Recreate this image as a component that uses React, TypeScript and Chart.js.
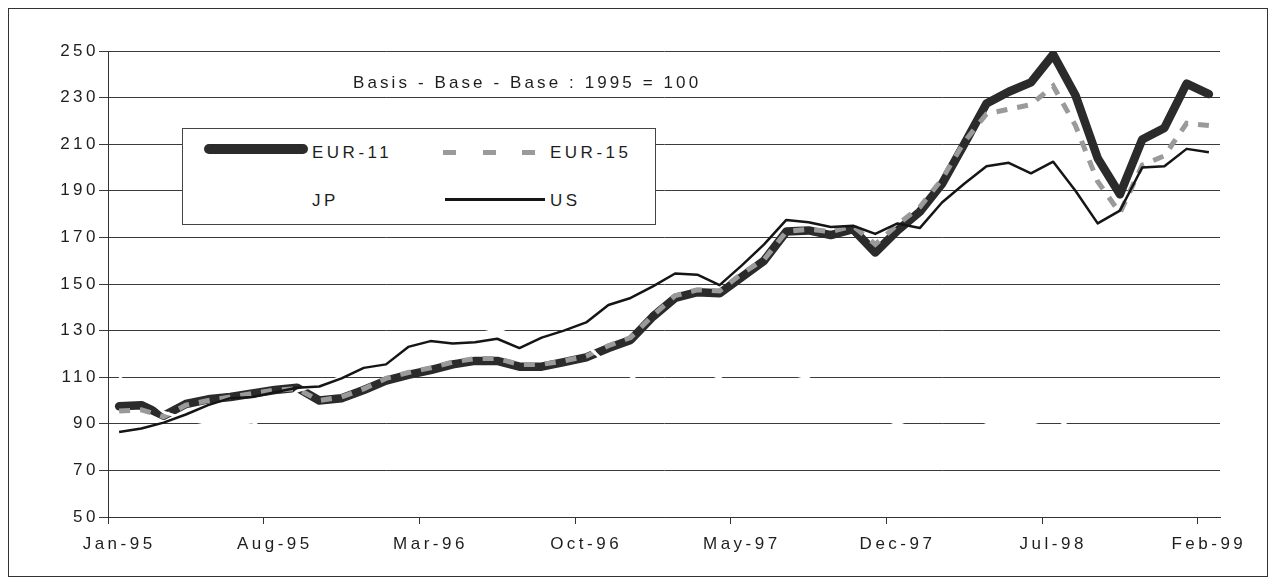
import React, { useEffect, useRef } from "react";
import { Chart, registerables } from "chart.js";

Chart.register(...registerables);

const monthLabels = [
  "Jan-95", "Feb-95", "Mar-95", "Apr-95", "May-95", "Jun-95", "Jul-95", "Aug-95", "Sep-95", "Oct-95", "Nov-95", "Dec-95",
  "Jan-96", "Feb-96", "Mar-96", "Apr-96", "May-96", "Jun-96", "Jul-96", "Aug-96", "Sep-96", "Oct-96", "Nov-96", "Dec-96",
  "Jan-97", "Feb-97", "Mar-97", "Apr-97", "May-97", "Jun-97", "Jul-97", "Aug-97", "Sep-97", "Oct-97", "Nov-97", "Dec-97",
  "Jan-98", "Feb-98", "Mar-98", "Apr-98", "May-98", "Jun-98", "Jul-98", "Aug-98", "Sep-98", "Oct-98", "Nov-98", "Dec-98",
  "Jan-99", "Feb-99",
];

const eur11 = [
  97.5, 98, 93.5, 98.5, 100.5, 101.5, 103, 104.5, 105.5, 100, 101, 104.5,
  108.5, 111, 113, 115.5, 117, 117, 114.5, 114.5, 116.5, 118.5, 122.5, 126,
  136, 144, 146.5, 146, 153, 160, 172.5, 173, 171, 173.5, 163.5, 173,
  181, 193, 210, 227.5, 232.5, 236.5, 248.5, 231, 204, 188.5, 212, 217,
  236, 231.5,
];

const eur15 = [
  95.5, 96, 93, 98, 100, 101.5, 103, 104.5, 105, 100, 101.5, 105,
  109.5, 112, 114, 116.5, 118, 118, 115.5, 115.5, 117, 119, 123.5, 127,
  136.5, 145, 147.5, 147, 154.5, 160.5, 172.5, 173.5, 172.5, 175, 167, 175.5,
  183, 195, 211, 223, 225, 227, 235, 218, 194, 180.5, 201, 205,
  219, 218,
];

const jp = [
  110, 103, 95, 92, 90, 90.5, 89.5, 96, 104, 107, 110, 115,
  118, 120, 122, 125, 128, 130.5, 127, 125, 124, 124, 115, 110.5,
  104, 103, 106, 110, 116, 118, 112, 109.5, 104, 97, 93, 90,
  93, 96, 94, 90.5, 90, 90, 93, 87, 82, 80, 83, 82,
  81, 83,
];

const us = [
  86.5, 88, 90.5, 94, 98, 101, 101.5, 103.5, 105.5, 106, 109.5, 114,
  115.5, 123, 125.5, 124.5, 125, 126.5, 122.5, 127, 130, 133.5, 141, 144,
  149, 154.5, 154, 149.5, 158, 167, 177.5, 176.5, 174.5, 175, 171.5, 176,
  174, 185, 193, 200.5, 202, 197.5, 202.5, 190, 176, 181.5, 200, 200.5,
  208, 206.5,
];

const yMin = 50;
const yMax = 250;
const yStep = 20;
const labelEvery = 7;

const titleText = "Basis - Base - Base : 1995 = 100";

const FONT = '"Liberation Sans", Arial, Helvetica, sans-serif';
const TEXT = "#1e1e1e";

const spacingPlugin = {
  id: "letterSpacing",
  beforeDraw(chart: any) {
    chart.ctx.letterSpacing = "3.5px";
  },
};

export default function App() {
  const canvasRef = useRef<HTMLCanvasElement | null>(null);

  useEffect(() => {
    const canvas = canvasRef.current;
    if (!canvas) return;
    const chart = new Chart(canvas, {
      type: "line",
      data: {
        labels: monthLabels,
        datasets: [
          {
            label: "EUR-11",
            data: eur11,
            borderColor: "#2b2b2b",
            borderWidth: 8.5,
            borderJoinStyle: "round",
            borderCapStyle: "round",
            pointRadius: 0,
            tension: 0,
            order: 4,
          },
          {
            label: "EUR-15",
            data: eur15,
            borderColor: "#9a9a9a",
            borderWidth: 5,
            borderDash: [11, 10],
            pointRadius: 0,
            tension: 0,
            order: 3,
          },
          {
            label: "JP",
            data: jp,
            borderColor: "#ffffff",
            borderWidth: 3,
            pointRadius: 0,
            tension: 0,
            order: 2,
          },
          {
            label: "US",
            data: us,
            borderColor: "#151515",
            borderWidth: 2.5,
            borderJoinStyle: "round",
            pointRadius: 0,
            tension: 0,
            order: 1,
          },
        ],
      },
      options: {
        responsive: false,
        animation: false,
        events: [],
        layout: { padding: { top: 42, right: 47, left: 0, bottom: 0 } },
        plugins: {
          legend: { display: false },
          tooltip: { enabled: false },
          title: { display: false },
        },
        scales: {
          x: {
            type: "category",
            offset: true,
            afterFit: (s: any) => {
              s.height = 59;
            },
            border: { display: true, color: "#333", width: 1 },
            grid: {
              offset: true,
              drawOnChartArea: false,
              drawTicks: true,
              tickLength: 7,
              lineWidth: 1,
              color: (ctx: any) => (ctx.index % labelEvery === 0 ? "#333" : "rgba(0,0,0,0)"),
            },
            ticks: {
              autoSkip: false,
              maxRotation: 0,
              minRotation: 0,
              padding: 10,
              color: TEXT,
              font: { family: FONT, size: 17 },
              callback: (_v: any, i: number) => (i % labelEvery === 0 ? monthLabels[i] : ""),
            },
          },
          y: {
            min: yMin,
            max: yMax,
            afterFit: (s: any) => {
              s.width = 99;
            },
            border: { display: true, color: "#333", width: 1 },
            grid: {
              color: "#3a3a3a",
              lineWidth: 1,
              drawTicks: true,
              tickLength: 9,
            },
            ticks: {
              stepSize: yStep,
              padding: 0,
              color: TEXT,
              font: { family: FONT, size: 17 },
            },
          },
        },
      },
      plugins: [spacingPlugin],
    });
    return () => chart.destroy();
  }, []);

  const textStyle: React.CSSProperties = {
    position: "absolute",
    fontFamily: FONT,
    fontSize: 17,
    lineHeight: "20px",
    letterSpacing: "3.5px",
    color: TEXT,
    whiteSpace: "nowrap",
  };

  return (
    <div
      style={{
        position: "relative",
        width: 1260,
        height: 569,
        border: "1px solid #333",
        boxSizing: "border-box",
        background: "#ffffff",
        overflow: "hidden",
      }}
    >
      <canvas ref={canvasRef} width={1258} height={567} style={{ position: "absolute", left: 0, top: 0 }} />
      <div style={{ ...textStyle, left: 344, top: 64, letterSpacing: "3.1px" }}>{titleText}</div>
      <div
        style={{
          position: "absolute",
          left: 173,
          top: 119,
          width: 474,
          height: 97,
          border: "1px solid #444",
          boxSizing: "border-box",
          background: "#ffffff",
        }}
      />
      <div style={{ position: "absolute", left: 195, top: 135, width: 104, height: 10, background: "#2b2b2b", borderRadius: 5 }} />
      <div style={{ ...textStyle, left: 303, top: 134 }}>EUR-11</div>
      <div style={{ position: "absolute", left: 434, top: 141, width: 13, height: 5, background: "#9a9a9a" }} />
      <div style={{ position: "absolute", left: 474, top: 141, width: 13, height: 5, background: "#9a9a9a" }} />
      <div style={{ position: "absolute", left: 513, top: 141, width: 13, height: 5, background: "#9a9a9a" }} />
      <div style={{ ...textStyle, left: 541, top: 134 }}>EUR-15</div>
      <div style={{ ...textStyle, left: 303, top: 182 }}>JP</div>
      <div style={{ position: "absolute", left: 436, top: 189, width: 100, height: 3, background: "#151515" }} />
      <div style={{ ...textStyle, left: 541, top: 182 }}>US</div>
    </div>
  );
}
